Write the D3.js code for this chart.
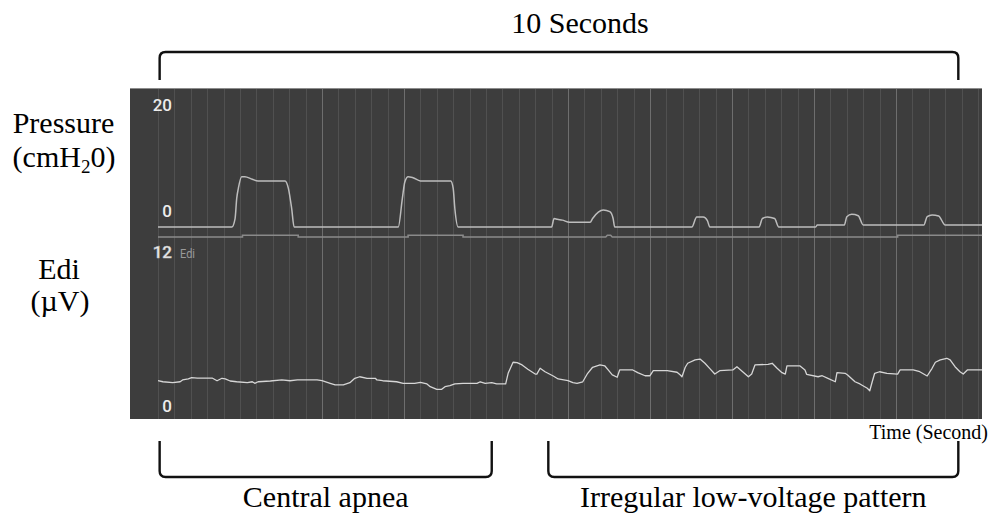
<!DOCTYPE html>
<html>
<head>
<meta charset="utf-8">
<script src="https://cdn.jsdelivr.net/npm/d3@7"></script>
<style>
  html, body { margin: 0; padding: 0; background: #fff; }
  svg { display: block; }
</style>
</head>
<body>
<svg id="chart" width="990" height="521"></svg>
<script>
// ---------- DATA ----------
// time in seconds, pressure in cmH2O
const pressureSamples = [
  [0.00,0],[0.90,0],[0.94,1.6],[0.96,5.4],[0.98,7.3],[1.02,9.5],[1.06,9.5],[1.15,9.0],[1.22,8.7],
  [1.55,8.7],[1.59,7.3],[1.63,3.5],[1.66,0],[2.93,0],[2.98,5.4],[3.01,8.5],[3.05,9.5],[3.11,9.3],
  [3.20,8.7],[3.57,8.7],[3.60,7.3],[3.62,3.5],[3.66,0],[4.80,0],[4.83,1.6],[4.87,1.45],[4.93,1.3],
  [5.02,0.9],[5.27,0.9],[5.30,1.6],[5.37,2.8],[5.43,3.2],[5.51,2.9],[5.55,1.6],[5.57,0],[6.51,0],
  [6.57,1.9],[6.65,1.9],[6.70,1.2],[6.73,0],[7.33,0],[7.37,1.6],[7.43,1.9],[7.52,1.6],[7.57,0],
  [8.02,0],[8.04,0.38],[8.37,0.38],[8.40,1.94],[8.46,2.4],[8.54,2.13],[8.60,0.38],[9.34,0.38],
  [9.38,1.94],[9.44,2.26],[9.52,2.08],[9.60,0.38],[10.05,0.38]
];
// time in seconds, Edi in µV
const ediSamples = [
  [0.00,3.06],[0.06,2.98],[0.18,2.91],[0.27,2.98],[0.30,3.12],[0.37,3.20],[0.41,3.30],[0.48,3.27],
  [0.66,3.27],[0.72,3.06],[0.78,3.25],[0.82,3.20],[0.88,3.04],[0.96,2.98],[1.09,2.91],[1.15,2.98],
  [1.18,2.86],[1.22,2.98],[1.37,3.04],[1.51,3.12],[1.61,3.06],[1.70,3.12],[1.94,3.12],[2.00,3.06],
  [2.10,2.86],[2.16,2.73],[2.26,2.73],[2.34,2.91],[2.40,3.25],[2.46,3.37],[2.55,3.25],[2.65,3.25],
  [2.67,3.12],[2.74,3.06],[2.91,2.98],[2.99,2.86],[3.13,2.86],[3.20,2.94],[3.28,2.81],[3.32,2.60],
  [3.40,2.39],[3.46,2.39],[3.50,2.60],[3.56,2.67],[3.62,2.81],[3.72,2.86],[3.89,2.86],[3.93,2.98],
  [3.99,2.86],[4.07,2.91],[4.13,2.81],[4.24,2.81],[4.27,3.64],[4.33,4.50],[4.38,4.47],[4.44,4.29],
  [4.51,3.95],[4.60,3.58],[4.62,3.58],[4.66,4.03],[4.72,3.76],[4.82,3.43],[4.88,3.20],[5.00,3.06],
  [5.06,2.91],[5.11,2.86],[5.18,2.98],[5.24,3.64],[5.30,4.11],[5.39,4.29],[5.45,4.21],[5.49,3.90],
  [5.54,3.51],[5.60,3.33],[5.63,3.90],[5.79,3.90],[5.85,3.69],[5.94,3.45],[6.00,3.45],[6.04,3.84],
  [6.21,3.84],[6.33,3.72],[6.37,3.51],[6.39,3.37],[6.43,4.11],[6.46,4.42],[6.55,4.68],[6.61,4.75],
  [6.67,4.42],[6.73,4.00],[6.79,3.58],[6.85,3.84],[7.01,3.90],[7.06,4.15],[7.13,3.76],[7.20,3.37],
  [7.24,3.58],[7.28,4.29],[7.44,4.34],[7.49,4.42],[7.55,4.03],[7.61,3.69],[7.65,3.58],[7.67,4.21],
  [7.83,4.21],[7.89,3.90],[7.91,3.56],[8.05,3.37],[8.10,3.45],[8.17,3.25],[8.26,2.98],[8.28,3.69],
  [8.38,3.64],[8.41,3.51],[8.50,2.98],[8.56,2.81],[8.65,2.47],[8.68,2.28],[8.71,2.98],[8.74,3.64],
  [8.80,3.76],[8.89,3.64],[9.02,3.58],[9.05,3.90],[9.21,3.90],[9.29,3.76],[9.38,3.43],[9.44,4.03],
  [9.48,4.50],[9.54,4.68],[9.62,4.81],[9.66,4.68],[9.72,4.15],[9.78,3.76],[9.82,3.58],[9.87,3.90],
  [10.05,3.90]
];
// trigger/phase indicator strip under the pressure channel (0 = off, 1 = on)
const phaseSamples = [
  [0.00,0],[1.03,0],[1.03,1],[1.71,1],[1.71,0],[3.05,0],[3.05,1],[3.72,1],[3.72,0],
  [5.46,0],[5.48,1],[5.52,1],[5.54,0],[9.02,0],[9.02,1],[10.05,1]
];
const pressureTicks = [20, 0];
const ediTicks = [12, 0];
const brightSeconds = [2, 3, 5, 6, 7, 8, 9];
const rowLabels = [
  { main: "Pressure", sub: ["(cmH", "2", "0)"] },
  { main: "Edi", sub: ["(µV)"] }
];
const brackets = [
  { name: "10 Seconds", t0: 0.02, t1: 9.76, side: "top" },
  { name: "Central apnea", t0: 0.02, t1: 4.07, side: "bottom" },
  { name: "Irregular low-voltage pattern", t0: 4.76, t1: 9.76, side: "bottom" }
];
const axisTitle = "Time (Second)";

// ---------- LAYOUT ----------
const svg = d3.select("#chart");
const panel = { x: 130, y: 88, w: 852, h: 331 };
const x = d3.scaleLinear().domain([0, 10]).range([158, 978]);
const yP = d3.scaleLinear().domain([0, 20]).range([227, 121]);
const yE = d3.scaleLinear().domain([0, 12]).range([420, 266]);
const yPhase = d3.scaleLinear().domain([0, 1]).range([237, 235.3]);

const serif = "'Liberation Serif', 'Times New Roman', Times, serif";
const sans = "Roboto, 'Noto Sans', sans-serif";

// panel background
svg.append("rect")
  .attr("x", panel.x).attr("y", panel.y)
  .attr("width", panel.w).attr("height", panel.h)
  .attr("fill", "#3d3d3d");
svg.append("line")
  .attr("x1", panel.x).attr("x2", panel.x + panel.w)
  .attr("y1", panel.y + 0.5).attr("y2", panel.y + 0.5)
  .attr("stroke", "#8c8c8c").attr("stroke-width", 1);

// vertical grid (every 0.2 s)
const gridTicks = d3.range(0, 51).map(k => k * 0.2);
svg.append("g").selectAll("line")
  .data(gridTicks)
  .join("line")
  .attr("x1", d => Math.round(x(d)) + 0.5)
  .attr("x2", d => Math.round(x(d)) + 0.5)
  .attr("y1", panel.y + 1).attr("y2", panel.y + panel.h)
  .attr("stroke", d => {
    const s = Math.round(d * 5) / 5;
    return (Math.abs(s - Math.round(s)) < 1e-6 && brightSeconds.includes(Math.round(s))) ? "#6e6e6e" : "#505050";
  })
  .attr("stroke-width", 1);

// phase strip
svg.append("path")
  .datum(phaseSamples)
  .attr("fill", "none")
  .attr("stroke", "#8a8a8a")
  .attr("stroke-width", 1.6)
  .attr("d", d3.line().x(d => x(d[0])).y(d => yPhase(d[1])));

// pressure trace
svg.append("path")
  .datum(pressureSamples)
  .attr("fill", "none")
  .attr("stroke", "#bdbdbd")
  .attr("stroke-width", 1.5)
  .attr("stroke-linejoin", "round")
  .attr("d", d3.line().x(d => x(d[0])).y(d => yP(d[1])).curve(d3.curveMonotoneX));

// edi trace
svg.append("path")
  .datum(ediSamples)
  .attr("fill", "none")
  .attr("stroke", "#d6d6d6")
  .attr("stroke-width", 1.3)
  .attr("stroke-linejoin", "round")
  .attr("d", d3.line().x(d => x(d[0])).y(d => yE(d[1])));

// channel tick labels
svg.append("g").selectAll("text")
  .data(pressureTicks)
  .join("text")
  .attr("x", 172).attr("y", d => yP(d) - 10)
  .attr("text-anchor", "end")
  .attr("font-family", sans).attr("font-weight", 500).attr("font-size", 17)
  .attr("fill", "#ececec")
  .text(d => d);
svg.append("g").selectAll("text")
  .data(ediTicks)
  .join("text")
  .attr("x", 172)
  .attr("y", d => yE(d) - 8)
  .attr("text-anchor", "end")
  .attr("font-family", sans).attr("font-weight", 500).attr("font-size", 17)
  .attr("fill", "#ececec")
  .attr("stroke", d => d === ediTicks[0] ? "#bdbdbd" : "none")
  .attr("stroke-width", 0.5)
  .text(d => d);
svg.append("text")
  .attr("x", 180).attr("y", yE(ediTicks[0]) - 8)
  .attr("font-family", "Roboto, sans-serif").attr("font-size", 13)
  .attr("fill", "#9a9a9a")
  .attr("textLength", 15).attr("lengthAdjust", "spacingAndGlyphs")
  .text("Edi");

// row labels (left)
const pLab = svg.append("g").attr("font-family", serif).attr("font-size", 30).attr("fill", "#000");
pLab.append("text").attr("x", 63.5).attr("y", 133).attr("text-anchor", "middle").text(rowLabels[0].main);
const sub = pLab.append("text").attr("x", 64).attr("y", 167).attr("text-anchor", "middle");
sub.append("tspan").text(rowLabels[0].sub[0]);
sub.append("tspan").attr("font-size", 19).attr("dy", 6).text(rowLabels[0].sub[1]);
sub.append("tspan").attr("dy", -6).text(rowLabels[0].sub[2]);
pLab.append("text").attr("x", 59).attr("y", 279).attr("text-anchor", "middle").text(rowLabels[1].main);
pLab.append("text").attr("x", 60).attr("y", 311).attr("text-anchor", "middle").text(rowLabels[1].sub[0]);

// axis title
svg.append("text")
  .attr("x", 988).attr("y", 439)
  .attr("text-anchor", "end")
  .attr("font-family", serif).attr("font-size", 20)
  .attr("fill", "#000")
  .text(axisTitle);

// brackets
const r = 6;
function bracketPath(b) {
  const x0 = x(b.t0), x1 = x(b.t1);
  if (b.side === "top") {
    const yb = 52, ye = 80;
    return `M${x0},${ye} L${x0},${yb + r} Q${x0},${yb} ${x0 + r},${yb} L${x1 - r},${yb} Q${x1},${yb} ${x1},${yb + r} L${x1},${ye}`;
  } else {
    const yb = 477, ye = 441;
    return `M${x0},${ye} L${x0},${yb - r} Q${x0},${yb} ${x0 + r},${yb} L${x1 - r},${yb} Q${x1},${yb} ${x1},${yb - r} L${x1},${ye}`;
  }
}
svg.append("g").selectAll("path")
  .data(brackets)
  .join("path")
  .attr("d", bracketPath)
  .attr("fill", "none")
  .attr("stroke", "#111")
  .attr("stroke-width", 2.4);
svg.append("g").selectAll("text")
  .data(brackets)
  .join("text")
  .attr("x", d => (x(d.t0) + x(d.t1)) / 2 + (d.side === "top" ? 21 : 0))
  .attr("y", d => d.side === "top" ? 33 : 507)
  .attr("text-anchor", "middle")
  .attr("font-family", serif).attr("font-size", 30)
  .attr("fill", "#000")
  .text(d => d.name);
</script>
</body>
</html>
